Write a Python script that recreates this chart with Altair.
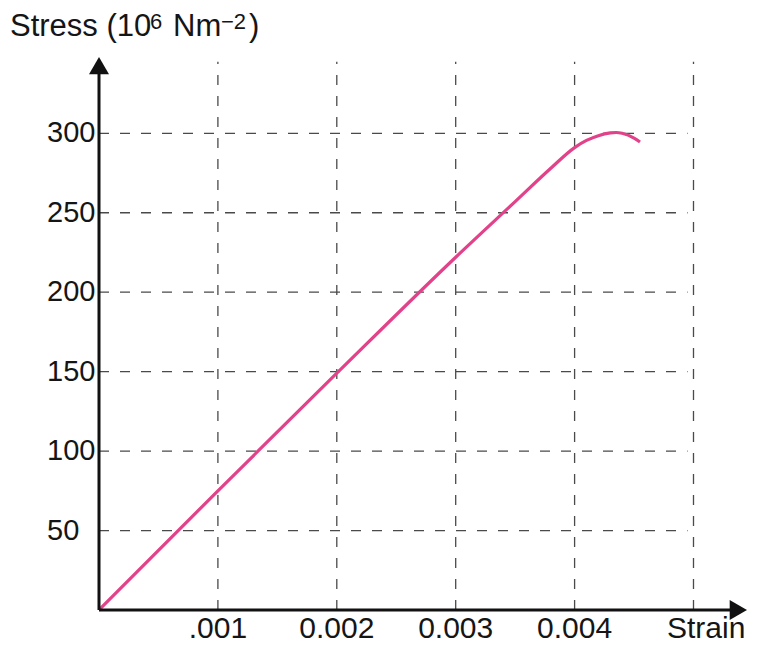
import altair as alt
import pandas as pd

# ---- data ----
strain = [0, 0.001, 0.002, 0.003, 0.0035, 0.0038, 0.004, 0.0041, 0.0042, 0.0043, 0.00435, 0.0044, 0.0045, 0.00455]
stress = [0, 75, 149, 222, 257, 278, 291, 295.5, 298.5, 300.2, 300.5, 300, 297, 294.5]

y_ticks = [50, 100, 150, 200, 250, 300]
y_tick_labels = ["50", "100", "150", "200", "250", "300"]
x_ticks = [0.001, 0.002, 0.003, 0.004]
x_tick_labels = [".001", "0.002", "0.003", "0.004"]
x_grid = [0.001, 0.002, 0.003, 0.004, 0.005]
y_grid = [50, 100, 150, 200, 250, 300]
grid_x_end = 0.00495
grid_y_end = 345

axis_x_end = 0.0054
axis_y_end = 338
arrow_x = [0, 0.005377]
arrow_y = [342.6, 0]
arrow_shape = ["triangle-up", "triangle-right"]

W, H = 648, 553
FONT = "Liberation Sans"
INK = "#151515"

xs = alt.Scale(domain=[0, 0.00545], nice=False, zero=False)
ys = alt.Scale(domain=[0, 348], nice=False, zero=False)

curve = pd.DataFrame({"strain": strain, "stress": stress})
hgrid = pd.DataFrame({"y": y_grid, "x0": [0] * len(y_grid), "x1": [grid_x_end] * len(y_grid)})
vgrid = pd.DataFrame({"x": x_grid, "y0": [0] * len(x_grid), "y1": [grid_y_end] * len(x_grid)})
axes_df = pd.DataFrame({"x0": [0, 0], "x1": [0, axis_x_end], "y0": [0, 0], "y1": [axis_y_end, 0]})
arrows = pd.DataFrame({"x": arrow_x, "y": arrow_y, "shape": arrow_shape})
ylab = pd.DataFrame({"v": y_ticks, "t": y_tick_labels})
xlab = pd.DataFrame({"v": x_ticks, "t": x_tick_labels})

grid_style = dict(color="#4a4a4a", strokeWidth=1.3, strokeDash=[10, 11])

h_layer = alt.Chart(hgrid).mark_rule(**grid_style).encode(
    x=alt.X("x0:Q", scale=xs, axis=None),
    x2="x1:Q",
    y=alt.Y("y:Q", scale=ys, axis=None),
)
v_layer = alt.Chart(vgrid).mark_rule(**grid_style).encode(
    x=alt.X("x:Q", scale=xs, axis=None),
    y=alt.Y("y0:Q", scale=ys, axis=None),
    y2="y1:Q",
)
axis_layer = alt.Chart(axes_df).mark_rule(color="#111111", strokeWidth=3).encode(
    x=alt.X("x0:Q", scale=xs, axis=None),
    x2="x1:Q",
    y=alt.Y("y0:Q", scale=ys, axis=None),
    y2="y1:Q",
)
arrow_layer = alt.Chart(arrows).mark_point(filled=True, opacity=1, color="#111111", size=400).encode(
    x=alt.X("x:Q", scale=xs, axis=None),
    y=alt.Y("y:Q", scale=ys, axis=None),
    shape=alt.Shape("shape:N", scale=None, legend=None),
)
line_layer = alt.Chart(curve).mark_line(color="#e2428a", strokeWidth=3.2, interpolate="monotone").encode(
    x=alt.X("strain:Q", scale=xs, axis=None),
    y=alt.Y("stress:Q", scale=ys, axis=None),
)

ylab_layer = alt.Chart(ylab).mark_text(
    font=FONT, fontSize=29, color=INK, align="left", baseline="middle"
).encode(
    y=alt.Y("v:Q", scale=ys, axis=None),
    x=alt.value(-52),
    text="t:N",
)
xlab_layer = alt.Chart(xlab).mark_text(
    font=FONT, fontSize=30, color=INK, align="center", baseline="alphabetic"
).encode(
    x=alt.X("v:Q", scale=xs, axis=None),
    y=alt.value(H + 28),
    text="t:N",
)

one = alt.Data(values=[{}])

def txt(s, x, y, size):
    return alt.Chart(one).mark_text(
        text=s, font=FONT, fontSize=size, color=INK, align="left", baseline="alphabetic"
    ).encode(x=alt.value(x), y=alt.value(y))

title_parts = [
    txt("Stress (10", -89, -21, 31),
    txt("6", 51, -28, 22),
    txt("Nm", 74, -21, 31),
    txt("\u22122", 122, -28, 22),
    txt(")", 150, -21, 31),
    txt("Strain", 568, H + 28, 30),
]

chart = alt.layer(
    h_layer, v_layer, line_layer, axis_layer, arrow_layer, ylab_layer, xlab_layer, *title_parts
).properties(
    width=W, height=H,
    autosize=alt.AutoSizeParams(type="none"),
    padding={"left": 91, "top": 49, "right": 7, "bottom": 35},
    background="white",
).configure_view(stroke=None)

chart.save("out.html", embed_options={"renderer": "svg", "actions": False})
